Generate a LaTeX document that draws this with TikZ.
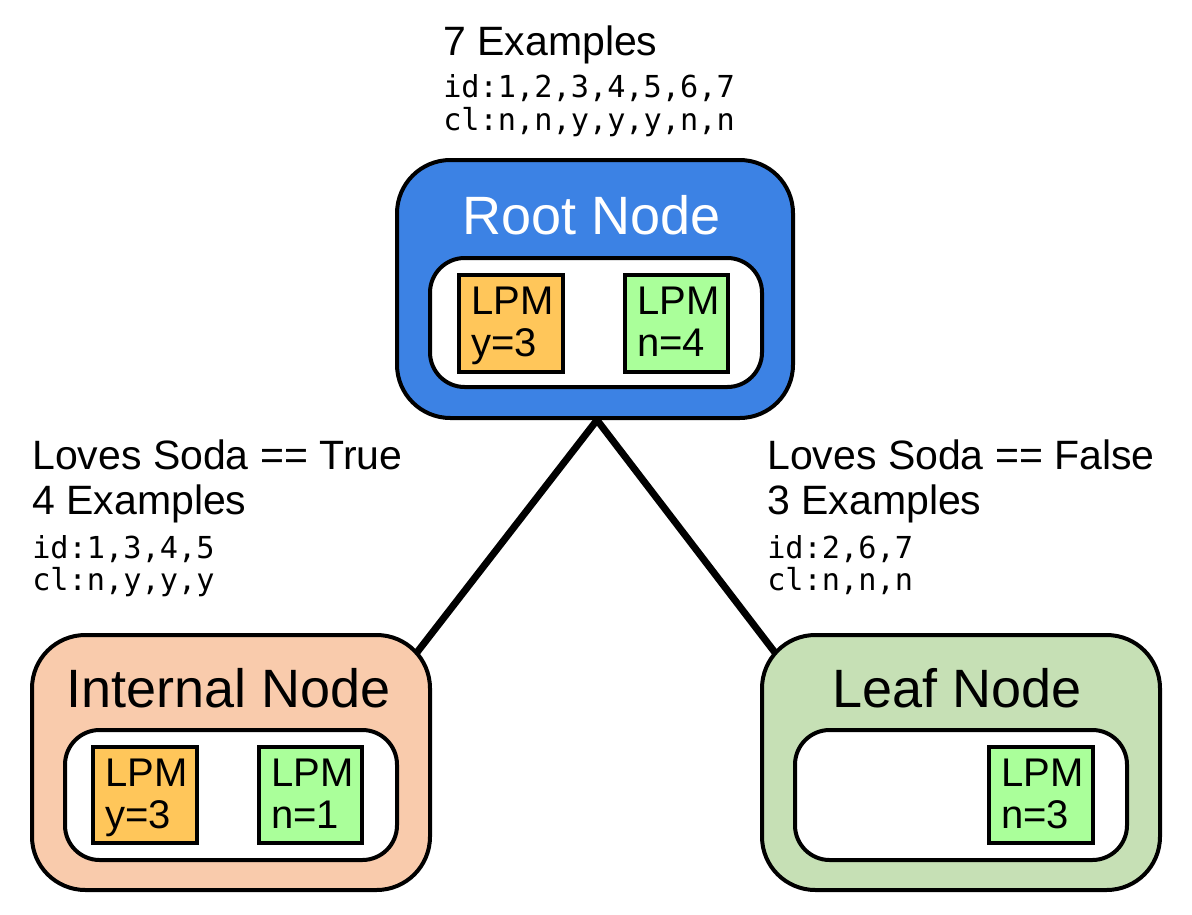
\documentclass[tikz,border=0pt]{standalone}
\usepackage{fontspec}
\setmainfont{Liberation Sans}
\setmonofont{DejaVu Sans Mono}
\usetikzlibrary{fit,backgrounds,calc}
\definecolor{rootblue}{HTML}{3C82E4}
\definecolor{peach}{HTML}{F9CBAC}
\definecolor{leafgreen}{HTML}{C6E0B5}
\definecolor{lpmorange}{HTML}{FFC65A}
\definecolor{lpmgreen}{HTML}{AAFF9A}
\begin{document}
\begin{tikzpicture}[x=0.75pt,y=-0.75pt,
  outerbox/.style={draw=black, line width=3pt, rounded corners=40pt, inner sep=0pt},
  innerbox/.style={draw=black, fill=white, line width=3pt, rounded corners=26pt, inner sep=0pt},
  lpmbox/.style={draw=black, line width=2.7pt, inner sep=0pt},
  ttl/.style={font=\fontsize{40.5}{48}\selectfont, anchor=base, inner sep=0pt},
  lbl/.style={font=\fontsize{30.75}{36}\selectfont, anchor=base west, inner sep=0pt},
  codetxt/.style={font=\ttfamily\fontsize{22.7}{27}\selectfont, anchor=base west, inner sep=0pt},
  lpmtext/.style={font=\fontsize{30}{36}\selectfont, anchor=base west, inner sep=0pt},
  connector/.style={draw=black, line width=5.25pt}
]
\useasboundingbox (0,0) rectangle (1192,914);

% Root node
\node[outerbox, fill=rootblue, fit={(397,160) (793,418)}] (root) {};
\node[ttl, text=white] (roottitle) at (592,234) {Root Node};
\node[innerbox, fit={(430,258) (762,387)}] (rootin) {};
\node[lpmbox, fill=lpmorange, fit={(459,275) (563,372)}] (rooty) {};
\node[lpmbox, fill=lpmgreen, fit={(625,275) (728,372)}] (rootn) {};
\node[lpmtext] (rooty1) at (471,314) {LPM};
\node[lpmtext] (rooty2) at (471,356) {y=3};
\node[lpmtext] (rootn1) at (637,314) {LPM};
\node[lpmtext] (rootn2) at (637,356) {n=4};

% Internal node
\node[outerbox, fill=peach, fit={(32,635) (430,890)}] (internal) {};
\node[ttl] (inttitle) at (229,707) {Internal Node};
\node[innerbox, fit={(65,730) (397,860)}] (intin) {};
\node[lpmbox, fill=lpmorange, fit={(93,747) (197,843)}] (inty) {};
\node[lpmbox, fill=lpmgreen, fit={(259,747) (362,843)}] (intn) {};
\node[lpmtext] (inty1) at (105,786) {LPM};
\node[lpmtext] (inty2) at (105,828) {y=3};
\node[lpmtext] (intn1) at (271,786) {LPM};
\node[lpmtext] (intn2) at (271,828) {n=1};

% Leaf node
\node[outerbox, fill=leafgreen, fit={(762,635) (1160,890)}] (leaf) {};
\node[ttl] (leaftitle) at (957,707) {Leaf Node};
\node[innerbox, fit={(795,730) (1127,860)}] (leafin) {};
\node[lpmbox, fill=lpmgreen, fit={(989,747) (1093,843)}] (leafn) {};
\node[lpmtext] (leafn1) at (1001,786) {LPM};
\node[lpmtext] (leafn2) at (1001,828) {n=3};

% Connectors (extended into the nodes, hidden by their fill)
\coordinate (rootbot) at ($(root.south)+(2,0)$);
\coordinate (intend) at ($(rootbot)!1.15!(internal.north east)$);
\coordinate (leafend) at ($(rootbot)!1.15!(leaf.north west)$);
\begin{scope}[on background layer]
\draw[connector] (rootbot) -- (intend);
\draw[connector] (rootbot) -- (leafend);
\end{scope}

% Top labels
\node[lbl] (t1) at (443,55) {7 Examples};
\node[codetxt] (t2) at (443,97) {id:1,2,3,4,5,6,7};
\node[codetxt] (t3) at (443,130) {cl:n,n,y,y,y,n,n};

% Left labels
\node[lbl] (l1) at (32,469) {Loves Soda == True};
\node[lbl] (l2) at (32,514) {4 Examples};
\node[codetxt] (l3) at (32,558) {id:1,3,4,5};
\node[codetxt] (l4) at (32,590) {cl:n,y,y,y};

% Right labels
\node[lbl] (r1) at (767,469) {Loves Soda == False};
\node[lbl] (r2) at (767,514) {3 Examples};
\node[codetxt] (r3) at (767,558) {id:2,6,7};
\node[codetxt] (r4) at (767,590) {cl:n,n,n};
\end{tikzpicture}
\end{document}
